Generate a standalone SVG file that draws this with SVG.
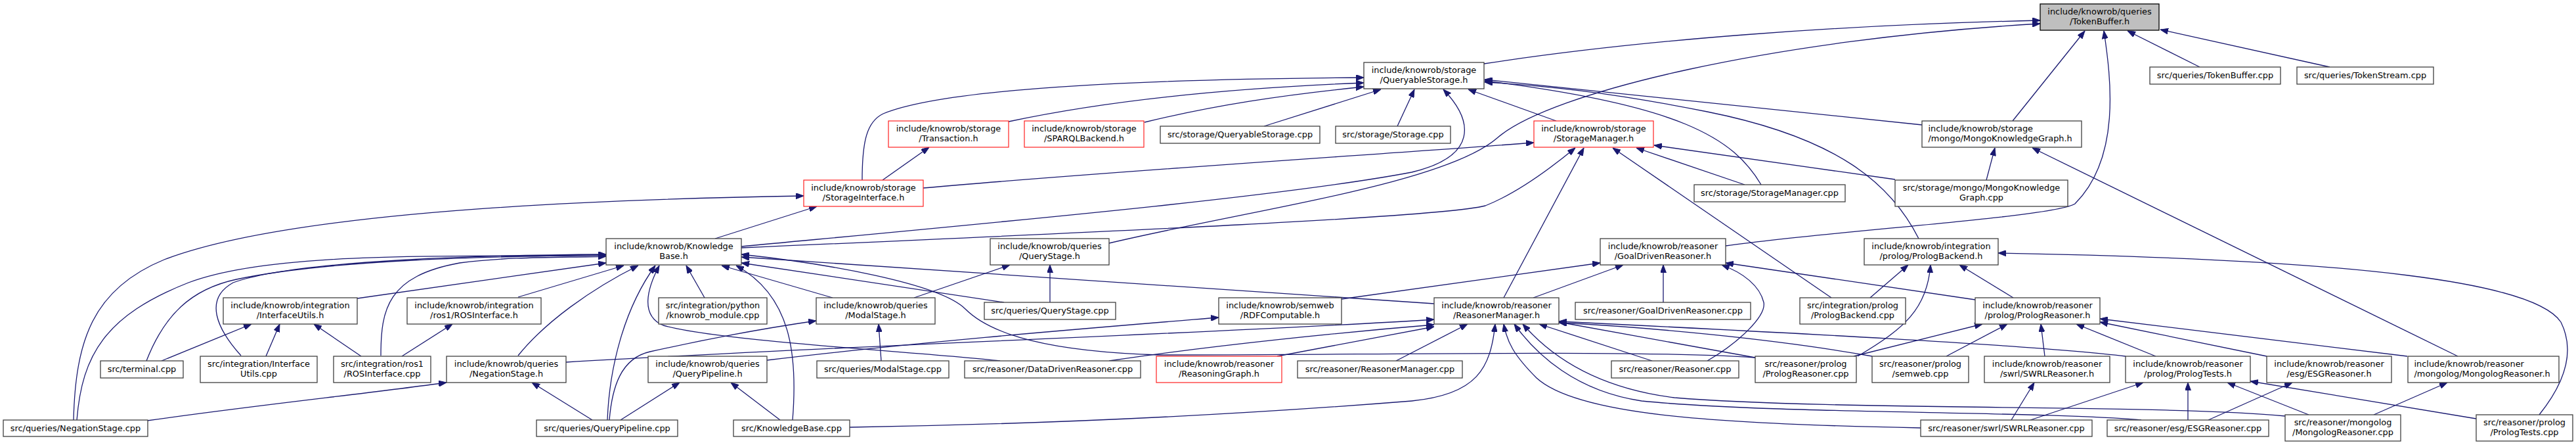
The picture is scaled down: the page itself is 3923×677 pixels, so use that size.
<svg xmlns="http://www.w3.org/2000/svg" width="3923" height="677" viewBox="0 0 3923 677">
<style>
.b{fill:#fff;stroke:#404040;stroke-width:1.3}
.r{fill:#fff;stroke:#ff2020;stroke-width:1.2}
.root{fill:#bfbfbf;stroke:#000;stroke-width:1.3}
text{font-family:"DejaVu Sans",Verdana,sans-serif;font-size:12.9px;fill:#000;text-anchor:middle}
text.l{text-anchor:start}
.e path{fill:none;stroke:#191970;stroke-width:1.3;marker-end:url(#ah)}
</style>
<defs>
<marker id="ah" viewBox="0 0 12 9" refX="12" refY="4.5" markerWidth="12" markerHeight="9" orient="auto" markerUnits="userSpaceOnUse"><path d="M0,0L12,4.5L0,9z" fill="#191970" stroke="#191970" stroke-width="1"/></marker>
</defs>
<rect width="3923" height="677" fill="#fff"/>
<g class="e" id="connectors">
<path d="M2260,97 C2500,60 2800,38 3107,31"/>
<path d="M1689,370 C1900,320 2200,280 2280,210 C2360,140 2700,60 3107,36"/>
<path d="M3065,184 L3175,47"/>
<path d="M2628,374 C2800,350 3130,330 3160,310 C3230,240 3215,120 3204,47"/>
<path d="M3350,102 L3240,47"/>
<path d="M3548,102 L3290,45"/>
<path d="M1313,274 C1313,215 1320,185 1345,173 C1450,130 1800,120 2077,118"/>
<path d="M1536,185 C1700,150 1900,133 2077,126"/>
<path d="M1743,186 C1850,160 1950,145 2077,132"/>
<path d="M1925,192 L2103,136"/>
<path d="M2128,192 L2154,136"/>
<path d="M1129,375 C1500,340 1950,300 2150,262 C2250,238 2245,185 2198,136"/>
<path d="M2370,184 L2236,136"/>
<path d="M2682,281 C2640,210 2560,160 2261,123"/>
<path d="M2927,190 L2261,121"/>
<path d="M2922,363 C2880,280 2800,210 2600,170 C2450,140 2350,130 2261,125"/>
<path d="M1344,274 L1415,224"/>
<path d="M1406,286 C1700,260 2100,235 2336,217"/>
<path d="M1129,377 C1700,352 2200,330 2262,313 Q2320,290 2399,225"/>
<path d="M2290,453 L2412,225"/>
<path d="M2789,453 L2456,225"/>
<path d="M2657,281 L2492,225"/>
<path d="M2886,273 L2519,221"/>
<path d="M3025,274 L3038,225"/>
<path d="M3743,542 L3095,225"/>
<path d="M1089,363 L1244,314"/>
<path d="M112,639 C115,520 140,440 250,395 C420,330 800,305 1224,298"/>
<path d="M117,639 C125,540 160,480 287,430 C420,380 700,392 923,388"/>
<path d="M223,549 C250,480 290,440 360,425 C500,395 750,390 923,388"/>
<path d="M367,541 C330,500 310,455 355,430 C450,395 750,388 923,387"/>
<path d="M580,541 C580,470 590,420 700,400 C780,390 850,392 923,390"/>
<path d="M544,454 L923,400"/>
<path d="M789,452 L950,404"/>
<path d="M789,541 C830,490 900,440 972,404"/>
<path d="M925,639 C928,560 950,470 998,404"/>
<path d="M1073,453 L1045,404"/>
<path d="M1268,453 L1099,404"/>
<path d="M1207,639 C1215,540 1205,450 1121,404"/>
<path d="M1529,460 L1129,400"/>
<path d="M1523,549 C1400,535 1100,520 1010,495 C975,480 985,440 1004,404"/>
<path d="M2673,544 C2500,532 2100,540 1765,540 C1600,535 1510,510 1470,470 C1430,430 1250,400 1129,387"/>
<path d="M2184,462 L1129,391"/>
<path d="M246,549 L383,493"/>
<path d="M405,542 L426,493"/>
<path d="M550,542 L478,493"/>
<path d="M612,542 L689,493"/>
<path d="M224,640 C400,615 550,600 680,582"/>
<path d="M902,639 L810,582"/>
<path d="M945,639 L1035,582"/>
<path d="M1188,639 L1113,582"/>
<path d="M928,639 C932,590 945,545 990,535 C1080,515 1160,500 1243,488"/>
<path d="M1342,549 L1338,493"/>
<path d="M1392,453 L1538,403"/>
<path d="M1599,460 L1599,403"/>
<path d="M1168,548 C1400,520 1650,500 1856,483"/>
<path d="M862,551 C1300,525 1900,505 2184,486"/>
<path d="M1689,549 C1850,525 2050,505 2184,494"/>
<path d="M1945,542 L2184,497"/>
<path d="M2126,549 L2235,493"/>
<path d="M1294,650 C1600,645 1900,630 2150,610 C2250,600 2270,560 2277,493"/>
<path d="M2925,651 C2600,645 2400,630 2340,575 C2305,540 2295,520 2290,493"/>
<path d="M3261,639 C3100,625 2700,630 2500,610 C2400,595 2340,540 2306,493"/>
<path d="M3480,633 C3300,615 2800,625 2550,605 C2430,590 2360,540 2319,493"/>
<path d="M2516,549 L2344,493"/>
<path d="M2673,544 L2374,490"/>
<path d="M2851,542 C2700,515 2500,497 2374,491"/>
<path d="M3237,542 C3100,525 2700,505 2374,489"/>
<path d="M2043,455 L2437,400"/>
<path d="M2335,453 L2472,403"/>
<path d="M2533,460 L2533,403"/>
<path d="M2600,549 C2650,520 2690,480 2686,460 C2680,435 2655,415 2622,403"/>
<path d="M3008,456 L2628,400"/>
<path d="M2848,453 L2906,403"/>
<path d="M2829,542 C2900,500 2935,470 2940,403"/>
<path d="M3066,453 L2984,403"/>
<path d="M3867,631 C3900,590 3925,540 3900,490 C3860,430 3600,395 3043,385"/>
<path d="M2823,542 L3019,493"/>
<path d="M2964,542 L3057,493"/>
<path d="M3114,542 L3108,493"/>
<path d="M3283,542 L3162,493"/>
<path d="M3452,542 L3198,490"/>
<path d="M3666,542 L3198,485"/>
<path d="M3063,639 L3098,582"/>
<path d="M3092,639 L3264,582"/>
<path d="M3332,639 L3332,582"/>
<path d="M3516,631 L3392,582"/>
<path d="M3771,637 L3427,580"/>
<path d="M3363,639 L3491,582"/>
<path d="M3615,631 L3727,582"/>
</g>
<g id="n_root"><rect class="root" x="3107" y="6" width="181" height="40"/><text x="3197.5" y="22">include/knowrob/queries</text><text x="3197.5" y="36.5">/TokenBuffer.h</text></g>
<g id="n_qs"><rect class="b" x="2077" y="95" width="183" height="40"/><text x="2168.5" y="111">include/knowrob/storage</text><text x="2168.5" y="125.5">/QueryableStorage.h</text></g>
<g id="n_tbcpp"><rect class="b" x="3274" y="102" width="199" height="26"/><text x="3373.5" y="119">src/queries/TokenBuffer.cpp</text></g>
<g id="n_tscpp"><rect class="b" x="3498" y="102" width="208" height="26"/><text x="3602" y="119">src/queries/TokenStream.cpp</text></g>
<g id="n_trans"><rect class="r" x="1353" y="184" width="183" height="40"/><text x="1444.5" y="200">include/knowrob/storage</text><text x="1444.5" y="214.5">/Transaction.h</text></g>
<g id="n_sparql"><rect class="r" x="1560" y="184" width="182" height="40"/><text x="1651" y="200">include/knowrob/storage</text><text x="1651" y="214.5">/SPARQLBackend.h</text></g>
<g id="n_qscpp"><rect class="b" x="1767" y="192" width="243" height="26"/><text x="1888.5" y="209">src/storage/QueryableStorage.cpp</text></g>
<g id="n_storcpp"><rect class="b" x="2034" y="192" width="175" height="26"/><text x="2121.5" y="209">src/storage/Storage.cpp</text></g>
<g id="n_sm"><rect class="r" x="2336" y="184" width="182" height="40"/><text x="2427" y="200">include/knowrob/storage</text><text x="2427" y="214.5">/StorageManager.h</text></g>
<g id="n_mkg"><rect class="b" x="2927" y="184" width="243" height="40"/><text class="l" x="2936.5" y="200">include/knowrob/storage</text><text class="l" x="2936.5" y="214.5">/mongo/MongoKnowledgeGraph.h</text></g>
<g id="n_si"><rect class="r" x="1224" y="274" width="182" height="40"/><text x="1315" y="290">include/knowrob/storage</text><text x="1315" y="304.5">/StorageInterface.h</text></g>
<g id="n_smcpp"><rect class="b" x="2580" y="281" width="230" height="26"/><text x="2695" y="298">src/storage/StorageManager.cpp</text></g>
<g id="n_mkgcpp"><rect class="b" x="2886" y="274" width="263" height="40"/><text x="3017.5" y="290">src/storage/mongo/MongoKnowledge</text><text x="3017.5" y="304.5">Graph.cpp</text></g>
<g id="n_kb"><rect class="b" x="923" y="363" width="206" height="40"/><text x="1026" y="379">include/knowrob/Knowledge</text><text x="1026" y="393.5">Base.h</text></g>
<g id="n_qsh"><rect class="b" x="1508" y="363" width="181" height="40"/><text x="1598.5" y="379">include/knowrob/queries</text><text x="1598.5" y="393.5">/QueryStage.h</text></g>
<g id="n_gdr"><rect class="b" x="2437" y="363" width="191" height="40"/><text x="2532.5" y="379">include/knowrob/reasoner</text><text x="2532.5" y="393.5">/GoalDrivenReasoner.h</text></g>
<g id="n_pb"><rect class="b" x="2839" y="363" width="204" height="40"/><text x="2941" y="379">include/knowrob/integration</text><text x="2941" y="393.5">/prolog/PrologBackend.h</text></g>
<g id="n_iu"><rect class="b" x="340" y="453" width="204" height="40"/><text x="442" y="469">include/knowrob/integration</text><text x="442" y="483.5">/InterfaceUtils.h</text></g>
<g id="n_rosh"><rect class="b" x="620" y="453" width="204" height="40"/><text x="722" y="469">include/knowrob/integration</text><text x="722" y="483.5">/ros1/ROSInterface.h</text></g>
<g id="n_kmod"><rect class="b" x="1003" y="453" width="165" height="40"/><text x="1085.5" y="469">src/integration/python</text><text x="1085.5" y="483.5">/knowrob_module.cpp</text></g>
<g id="n_modal"><rect class="b" x="1243" y="453" width="181" height="40"/><text x="1333.5" y="469">include/knowrob/queries</text><text x="1333.5" y="483.5">/ModalStage.h</text></g>
<g id="n_qscpp2"><rect class="b" x="1499" y="460" width="200" height="26"/><text x="1599" y="477">src/queries/QueryStage.cpp</text></g>
<g id="n_rdf"><rect class="b" x="1856" y="453" width="187" height="40"/><text x="1949.5" y="469">include/knowrob/semweb</text><text x="1949.5" y="483.5">/RDFComputable.h</text></g>
<g id="n_rm"><rect class="b" x="2184" y="453" width="190" height="40"/><text x="2279" y="469">include/knowrob/reasoner</text><text x="2279" y="483.5">/ReasonerManager.h</text></g>
<g id="n_gdrcpp"><rect class="b" x="2399" y="460" width="267" height="26"/><text x="2532.5" y="477">src/reasoner/GoalDrivenReasoner.cpp</text></g>
<g id="n_pbcpp"><rect class="b" x="2741" y="453" width="161" height="40"/><text x="2821.5" y="469">src/integration/prolog</text><text x="2821.5" y="483.5">/PrologBackend.cpp</text></g>
<g id="n_prh"><rect class="b" x="3008" y="453" width="190" height="40"/><text x="3103" y="469">include/knowrob/reasoner</text><text x="3103" y="483.5">/prolog/PrologReasoner.h</text></g>
<g id="n_term"><rect class="b" x="153" y="549" width="126" height="26"/><text x="216" y="566">src/terminal.cpp</text></g>
<g id="n_iucpp"><rect class="b" x="305" y="542" width="178" height="40"/><text x="394" y="558">src/integration/Interface</text><text x="394" y="572.5">Utils.cpp</text></g>
<g id="n_roscpp"><rect class="b" x="508" y="542" width="148" height="40"/><text x="582" y="558">src/integration/ros1</text><text x="582" y="572.5">/ROSInterface.cpp</text></g>
<g id="n_neg"><rect class="b" x="680" y="542" width="182" height="40"/><text x="771" y="558">include/knowrob/queries</text><text x="771" y="572.5">/NegationStage.h</text></g>
<g id="n_qp"><rect class="b" x="987" y="542" width="181" height="40"/><text x="1077.5" y="558">include/knowrob/queries</text><text x="1077.5" y="572.5">/QueryPipeline.h</text></g>
<g id="n_modalcpp"><rect class="b" x="1244" y="549" width="201" height="26"/><text x="1344.5" y="566">src/queries/ModalStage.cpp</text></g>
<g id="n_ddr"><rect class="b" x="1469" y="549" width="268" height="26"/><text x="1603" y="566">src/reasoner/DataDrivenReasoner.cpp</text></g>
<g id="n_rg"><rect class="r" x="1761" y="542" width="191" height="40"/><text x="1856.5" y="558">include/knowrob/reasoner</text><text x="1856.5" y="572.5">/ReasoningGraph.h</text></g>
<g id="n_rmcpp"><rect class="b" x="1976" y="549" width="251" height="26"/><text x="2101.5" y="566">src/reasoner/ReasonerManager.cpp</text></g>
<g id="n_rcpp"><rect class="b" x="2454" y="549" width="194" height="26"/><text x="2551" y="566">src/reasoner/Reasoner.cpp</text></g>
<g id="n_prcpp"><rect class="b" x="2673" y="542" width="154" height="40"/><text x="2750" y="558">src/reasoner/prolog</text><text x="2750" y="572.5">/PrologReasoner.cpp</text></g>
<g id="n_semweb"><rect class="b" x="2851" y="542" width="147" height="40"/><text x="2924.5" y="558">src/reasoner/prolog</text><text x="2924.5" y="572.5">/semweb.cpp</text></g>
<g id="n_swrlh"><rect class="b" x="3022" y="542" width="191" height="40"/><text x="3117.5" y="558">include/knowrob/reasoner</text><text x="3117.5" y="572.5">/swrl/SWRLReasoner.h</text></g>
<g id="n_pth"><rect class="b" x="3237" y="542" width="190" height="40"/><text x="3332" y="558">include/knowrob/reasoner</text><text x="3332" y="572.5">/prolog/PrologTests.h</text></g>
<g id="n_esgh"><rect class="b" x="3452" y="542" width="190" height="40"/><text x="3547" y="558">include/knowrob/reasoner</text><text x="3547" y="572.5">/esg/ESGReasoner.h</text></g>
<g id="n_mlh"><rect class="b" x="3667" y="542" width="230" height="40"/><text class="l" x="3676.5" y="558">include/knowrob/reasoner</text><text class="l" x="3676.5" y="572.5">/mongolog/MongologReasoner.h</text></g>
<g id="n_negcpp"><rect class="b" x="5" y="639" width="220" height="25"/><text x="115" y="656">src/queries/NegationStage.cpp</text></g>
<g id="n_qpcpp"><rect class="b" x="817" y="639" width="215" height="25"/><text x="924.5" y="656">src/queries/QueryPipeline.cpp</text></g>
<g id="n_kbcpp"><rect class="b" x="1117" y="639" width="177" height="25"/><text x="1205.5" y="656">src/KnowledgeBase.cpp</text></g>
<g id="n_swrlcpp"><rect class="b" x="2925" y="639" width="261" height="25"/><text x="3055.5" y="656">src/reasoner/swrl/SWRLReasoner.cpp</text></g>
<g id="n_esgcpp"><rect class="b" x="3209" y="639" width="246" height="25"/><text x="3332" y="656">src/reasoner/esg/ESGReasoner.cpp</text></g>
<g id="n_mlcpp"><rect class="b" x="3480" y="631" width="176" height="40"/><text x="3568" y="647">src/reasoner/mongolog</text><text x="3568" y="661.5">/MongologReasoner.cpp</text></g>
<g id="n_ptcpp"><rect class="b" x="3771" y="631" width="147" height="40"/><text x="3844.5" y="647">src/reasoner/prolog</text><text x="3844.5" y="661.5">/PrologTests.cpp</text></g>
</svg>
